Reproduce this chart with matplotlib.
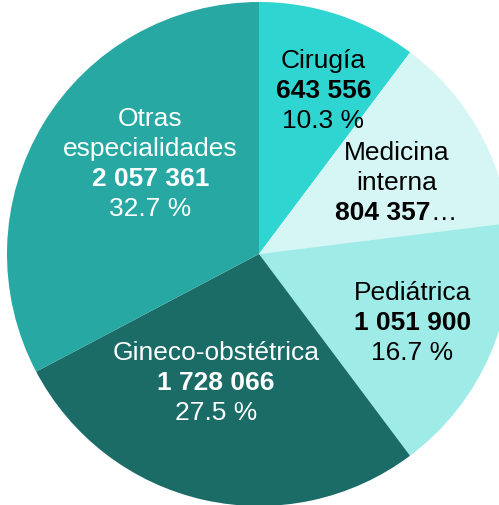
import numpy as np
import matplotlib
matplotlib.use("Agg")
import matplotlib.pyplot as plt

plt.rcParams['font.family'] = ['Liberation Sans', 'DejaVu Sans']

# datos
names = ["Cirugía", "Medicina\ninterna", "Pediátrica", "Gineco-obstétrica", "Otras\nespecialidades"]
values = [643556, 804357, 1051900, 1728066, 2057361]
value_labels = ["643 556", "804 357", "1 051 900", "1 728 066", "2 057 361"]
value_suffix = ["", "…", "", "", ""]
pct_labels = ["10.3 %", "", "16.7 %", "27.5 %", "32.7 %"]
colors = ["#2fd6d1", "#d6f6f5", "#9eebe7", "#1b6b67", "#27a8a3"]
text_colors = ["black", "black", "black", "white", "white"]

# label placement (radius in px, angle tweak in deg)
label_r = [176, 155, 168, 135, 142]
label_dang = [-3, -2.5, -1, -6, -9]

W, H = 499, 506
fig = plt.figure(figsize=(W / 100, H / 100), dpi=100)
ax = fig.add_axes([0, 0, 1, 1])
cx, cy, R = 259, H - 255, 252

wedges, _ = ax.pie(values, colors=colors, startangle=90, counterclock=False,
                   radius=R, center=(cx, cy), frame=True,
                   wedgeprops=dict(linewidth=0))
ax.set_xlim(0, W)
ax.set_ylim(0, H)
ax.set_aspect("equal")
ax.axis("off")

fs = 19
lh = 30
renderer = fig.canvas.get_renderer()
for i, w in enumerate(wedges):
    ang = np.deg2rad((w.theta1 + w.theta2) / 2 + label_dang[i])
    x = cx + label_r[i] * np.cos(ang)
    y = cy + label_r[i] * np.sin(ang)
    lines = []
    for part in names[i].split("\n"):
        lines.append((part, "normal"))
    lines.append((value_labels[i], "bold"))
    if pct_labels[i]:
        lines.append((pct_labels[i], "normal"))
    n = len(lines)
    for k, (txt, wt) in enumerate(lines):
        yy = y + (n - 1) / 2 * lh - k * lh
        t = ax.text(x, yy, txt, ha="center", va="center", fontsize=fs,
                    fontweight=wt, color=text_colors[i])
        if wt == "bold" and value_suffix[i]:
            # bold number followed by a normal-weight ellipsis, centred together
            s = ax.text(x, yy, value_suffix[i], ha="left", va="center",
                        fontsize=fs, color=text_colors[i])
            wb = t.get_window_extent(renderer).width
            ws = s.get_window_extent(renderer).width
            left = x - (wb + ws) / 2
            t.set_ha("left")
            t.set_x(left)
            s.set_x(left + wb)

plt.savefig("out.png", dpi=100)
